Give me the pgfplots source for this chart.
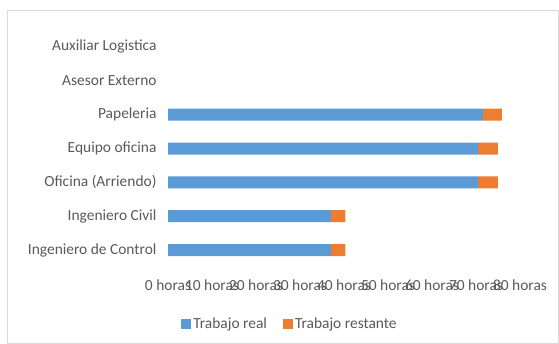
\documentclass[border=0pt]{standalone}
\usepackage{pgfplots}
\pgfplotsset{compat=1.18}
\usepackage{fontspec}
\setmainfont{Carlito}
\definecolor{xlblue}{HTML}{5B9BD5}
\definecolor{xlorange}{HTML}{ED7D31}
\definecolor{txt}{HTML}{595959}
\begin{document}
\begin{tikzpicture}
\path[use as bounding box] (0bp,0bp) rectangle (559bp,-344bp);
\draw[black!15, line width=1bp] (7.5bp,-10.5bp) rectangle (558.5bp,-343.5bp);
\begin{axis}[
  at={(168bp,-267bp)}, anchor=south west,
  scale only axis, width=352bp, height=237bp,
  xbar stacked, bar width=12bp,
  xmin=0, xmax=80, ymin=-0.5, ymax=6.5,
  xtick={0,10,...,80},
  xticklabels={0 horas,10 horas,20 horas,30 horas,40 horas,50 horas,60 horas,70 horas,80 horas},
  ytick={0,...,6},
  yticklabels={Ingeniero de Control,Ingeniero Civil,Oficina (Arriendo),Equipo oficina,Papeleria,Asesor Externo,Auxiliar Logistica},
  axis line style={draw=none},
  major tick length=0pt,
  tick label style={font=\fontsize{15.5}{18}\selectfont, text=txt},
  yticklabel style={xshift=-8bp},
  xticklabel style={yshift=-9bp},
  legend columns=2,
  legend style={draw=none, fill=none, at={(axis description cs:0.3466,-0.2405)}, anchor=center,
    font=\fontsize{15.5}{18}\selectfont, text=txt,
    /tikz/every even column/.append style={column sep=14bp}},
  legend image code/.code={\fill[#1] (0bp,-5bp) rectangle (10bp,5bp);},
]
\addplot[fill=xlblue, draw=none] coordinates {(37.0,0) (37.1,1) (70.5,2) (70.5,3) (71.6,4) (0,5) (0,6)};
\addplot[fill=xlorange, draw=none] coordinates {(3.3,0) (3.2,1) (4.5,2) (4.5,3) (4.3,4) (0,5) (0,6)};
\legend{Trabajo real, Trabajo restante}
\end{axis}
\end{tikzpicture}
\end{document}
